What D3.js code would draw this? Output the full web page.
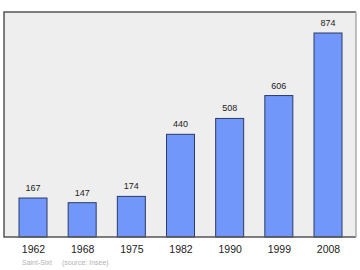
<!DOCTYPE html>
<html>
<head>
<meta charset="utf-8">
<script src="https://cdn.jsdelivr.net/npm/d3@7"></script>
<style>
body { margin: 0; background: #fff; }
text { font-family: "Liberation Sans", Arial, sans-serif; }
</style>
</head>
<body>
<script>
// population data
var years = ["1962", "1968", "1975", "1982", "1990", "1999", "2008"];
var population = [167, 147, 174, 440, 508, 606, 874];
var footer = ["Saint-Sixt", "(source: Insee)"];

var w = 360, h = 270;
var frame = {left: 4, top: 12, right: 356, bottom: 237};
var barW = 28;

var svg = d3.select("body").append("svg")
	.attr("width", w)
	.attr("height", h);

// plot background
svg.append("rect")
	.attr("x", frame.left)
	.attr("y", frame.top)
	.attr("width", frame.right - frame.left)
	.attr("height", frame.bottom - frame.top)
	.style("fill", "#eeeeee");

var x = d3.scalePoint()
	.domain(years)
	.range([33, 328]);

var y = d3.scaleLinear()
	.domain([0, 964])
	.range([frame.bottom, frame.top]);

var data = years.map(function(d, i){ return {year: d, pop: population[i]}; });

// bars
svg.selectAll(".bar")
	.data(data)
	.enter()
	.append("rect")
	.attr("class", "bar")
	.attr("x", function(d){ return x(d.year) - barW/2; })
	.attr("y", function(d){ return y(d.pop); })
	.attr("width", barW)
	.attr("height", function(d){ return y(0) - y(d.pop); })
	.style("fill", "#7297fb")
	.style("stroke", "#2b3a66")
	.style("stroke-width", 1);

// value labels
svg.selectAll(".val")
	.data(data)
	.enter()
	.append("text")
	.attr("class", "val")
	.attr("x", function(d){ return x(d.year); })
	.attr("y", function(d){ return y(d.pop) - 7; })
	.attr("text-anchor", "middle")
	.style("font-size", "9px")
	.style("fill", "#222")
	.text(function(d){ return d.pop; });

// frame lines: dark left/top/bottom, light right
svg.append("path")
	.attr("d", "M" + frame.right + "," + frame.top + "H" + frame.left + "V" + frame.bottom + "H" + frame.right)
	.style("fill", "none")
	.style("stroke", "#555")
	.style("stroke-width", 1.5);
svg.append("line")
	.attr("x1", frame.right).attr("x2", frame.right)
	.attr("y1", frame.top).attr("y2", frame.bottom)
	.style("stroke", "#aaa")
	.style("stroke-width", 1.5);

// year axis labels
var xAxis = d3.axisBottom(x).tickSize(0).tickPadding(0);
var gx = svg.append("g")
	.attr("transform", "translate(0," + 245.5 + ")")
	.call(xAxis);
gx.select(".domain").remove();
gx.selectAll("text")
	.style("font-family", "'Liberation Sans', Arial, sans-serif")
	.style("font-size", "10.5px")
	.style("fill", "#222");

// footer
svg.append("text")
	.attr("x", 22).attr("y", 265)
	.style("font-size", "7px")
	.style("fill", "#b4b4b4")
	.text(footer[0]);
svg.append("text")
	.attr("x", 62).attr("y", 265)
	.style("font-size", "7px")
	.style("fill", "#b4b4b4")
	.text(footer[1]);
</script>
</body>
</html>
